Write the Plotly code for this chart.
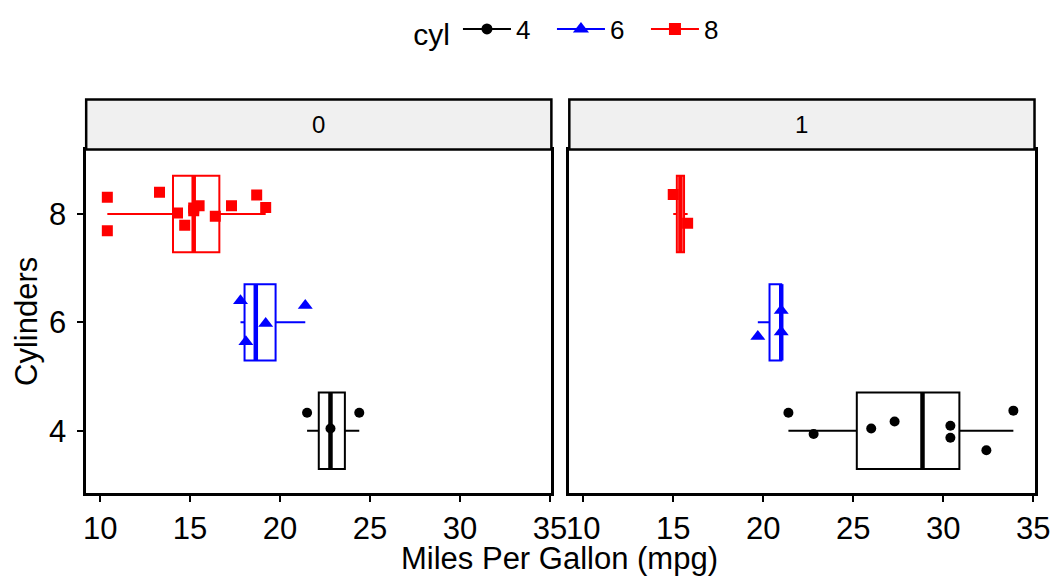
import plotly.graph_objects as go
import numpy as np

# ---- data (mtcars: mpg by cyl, faceted by am) ----
cyl_levels = [4, 6, 8]
facet_labels = ["0", "1"]
x_ticks = [10, 15, 20, 25, 30, 35]
y_ticks = [4, 6, 8]

# am = 0 (automatic)
mpg_am0_cyl4 = [21.5, 22.8, 24.4]
jit_am0_cyl4 = [4.33, 4.04, 4.33]
mpg_am0_cyl6 = [17.8, 18.1, 19.2, 21.4]
jit_am0_cyl6 = [6.40, 5.64, 5.98, 6.31]
mpg_am0_cyl8 = [10.4, 10.4, 13.3, 14.3, 14.7, 15.2, 15.5, 15.2, 16.4, 17.3, 18.7, 19.2]
jit_am0_cyl8 = [8.31, 7.69, 8.40, 8.02, 7.79, 8.06, 8.15, 8.11, 7.96, 8.15, 8.35, 8.12]

# am = 1 (manual)
mpg_am1_cyl4 = [21.4, 22.8, 26.0, 27.3, 30.4, 30.4, 32.4, 33.9]
jit_am1_cyl4 = [4.33, 3.94, 4.04, 4.17, 4.09, 3.87, 3.64, 4.37]
mpg_am1_cyl6 = [19.7, 21.0, 21.0]
jit_am1_cyl6 = [5.74, 6.22, 5.82]
mpg_am1_cyl8 = [15.0, 15.8]
jit_am1_cyl8 = [8.36, 7.83]

# ---- styles ----
colors = {4: "#000000", 6: "#0000FF", 8: "#FF0000"}
symbols = {4: "circle", 6: "triangle-up", 8: "square"}
msizes = {4: 10, 6: 13, 8: 11}
BOX_W = 1.41
FONT = "Liberation Sans, Arial, sans-serif"
W, H = 1055, 577
W_EFF = 1040  # effective drawn width

panels = [
    ("x", "y", {4: (mpg_am0_cyl4, jit_am0_cyl4), 6: (mpg_am0_cyl6, jit_am0_cyl6), 8: (mpg_am0_cyl8, jit_am0_cyl8)}),
    ("x2", "y2", {4: (mpg_am1_cyl4, jit_am1_cyl4), 6: (mpg_am1_cyl6, jit_am1_cyl6), 8: (mpg_am1_cyl8, jit_am1_cyl8)}),
]


def box_stats(vals):
    a = np.asarray(vals, dtype=float)
    q1, med, q3 = np.percentile(a, [25, 50, 75])  # type-7 quantiles, like R
    iqr = q3 - q1
    lf = a[a >= q1 - 1.5 * iqr].min()
    uf = a[a <= q3 + 1.5 * iqr].max()
    return float(q1), float(med), float(q3), float(lf), float(uf)


fig = go.Figure()
for pi, (xa, ya, groups) in enumerate(panels):
    for c in cyl_levels:
        vals, jit = groups[c]
        q1, med, q3, lf, uf = box_stats(vals)
        fig.add_trace(go.Box(
            y=[c], q1=[q1], median=[med], q3=[q3], lowerfence=[lf], upperfence=[uf],
            orientation="h", width=BOX_W, boxpoints=False, whiskerwidth=0,
            fillcolor="rgba(0,0,0,0)", line=dict(color=colors[c], width=2),
            name=str(c), legendgroup=str(c), showlegend=False,
            xaxis=xa, yaxis=ya, hoverinfo="skip",
        ))
        fig.add_trace(go.Scatter(
            x=[med, med], y=[c - BOX_W / 2, c + BOX_W / 2], mode="lines",
            line=dict(color=colors[c], width=4.5), showlegend=False,
            xaxis=xa, yaxis=ya, hoverinfo="skip",
        ))
        fig.add_trace(go.Scatter(
            x=vals, y=jit, mode="markers",
            marker=dict(symbol=symbols[c], size=msizes[c], color=colors[c], line=dict(width=0)),
            showlegend=False, xaxis=xa, yaxis=ya, hoverinfo="skip",
        ))

# legend-only entries (line + point key)
for c in cyl_levels:
    fig.add_trace(go.Scatter(
        x=[None], y=[None], mode="lines+markers", name=str(c), legendgroup=str(c),
        line=dict(color=colors[c], width=2),
        marker=dict(symbol=symbols[c], size=msizes[c] + 1, color=colors[c]),
        showlegend=True, hoverinfo="skip",
    ))

# panel geometry in (target) pixels
px_l = [(83.5, 550.5), (568.5, 1035.5)]
py_top, py_bot = 149.5, 493.0
strip_top = 99.5


def fx(p):
    return p / W_EFF


def fy(p):
    return 1 - p / H


axis_common = dict(
    showgrid=False, zeroline=False, showline=True, mirror=True,
    linecolor="black", linewidth=2.5,
    ticks="outside", ticklen=6, tickwidth=1.6, tickcolor="black",
    tickfont=dict(size=31, color="black", family=FONT),
)
layout_axes = {}
for i, (l, r) in enumerate(px_l):
    sx = "" if i == 0 else "2"
    layout_axes["xaxis" + sx] = dict(
        axis_common, domain=[fx(l), fx(r)], range=[9.225, 35.075],
        tickvals=x_ticks, anchor="y" + sx,
    )
    ydict = dict(axis_common, domain=[fy(py_bot), fy(py_top)], range=[2.85, 9.19],
                 tickvals=y_ticks, anchor="x" + sx, ticklabelstandoff=5)
    if i == 1:
        ydict.update(showticklabels=False, ticks="", matches="y")
    layout_axes["yaxis" + sx] = ydict

shapes = []
annotations = []
for i, (l, r) in enumerate(px_l):
    shapes.append(dict(type="rect", xref="paper", yref="paper",
                       x0=fx(l), x1=fx(r), y0=fy(py_top), y1=fy(strip_top),
                       fillcolor="#F0F0F0", line=dict(color="black", width=2.5), layer="above"))
    annotations.append(dict(xref="paper", yref="paper", x=fx((l + r) / 2), y=fy((py_top + strip_top) / 2),
                            xanchor="center", yanchor="middle",
                            text=facet_labels[i], showarrow=False,
                            font=dict(size=24, color="black", family=FONT)))

annotations.append(dict(xref="paper", yref="paper", x=fx(559), y=fy(558), xanchor="center", yanchor="middle",
                        text="Miles Per Gallon (mpg)",
                        showarrow=False, font=dict(size=31, color="black", family=FONT)))
annotations.append(dict(xref="paper", yref="paper", x=fx(23), y=fy(321), xanchor="center", yanchor="middle",
                        text="Cylinders", textangle=-90,
                        showarrow=False, font=dict(size=31, color="black", family=FONT)))

fig.update_layout(
    width=W, height=H, autosize=False, margin=dict(l=0, r=0, t=0, b=0),
    paper_bgcolor="white", plot_bgcolor="white",
    font=dict(family=FONT, color="black"),
    shapes=shapes, annotations=annotations,
    legend=dict(orientation="h", x=fx(575), xanchor="center", y=fy(30), yanchor="middle",
                title=dict(text="cyl", font=dict(size=30)), font=dict(size=26),
                itemwidth=48, entrywidth=31, entrywidthmode="pixels", bgcolor="rgba(0,0,0,0)"),
    **layout_axes,
)

fig.write_html("out.html", config={"responsive": False})
